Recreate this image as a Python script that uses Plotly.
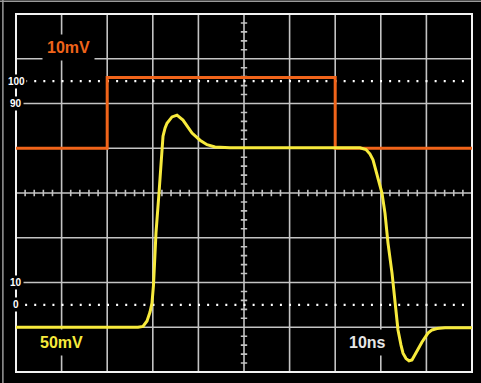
import plotly.graph_objects as go
import numpy as np

# ---- data (in screen divisions: 10 horizontal x 8 vertical) ----
ref_x = [0, 2, 2, 7, 7, 10]
ref_y = [5.0, 5.0, 6.58, 6.58, 5.0, 5.0]

resp_x = [0, 2.675, 2.785, 2.873, 2.939, 2.982, 3.015, 3.070, 3.136, 3.191, 3.224,
          3.268, 3.311, 3.421, 3.531, 3.662, 3.860, 4.035, 4.189, 4.364, 4.693,
          6.228, 7.544, 7.675, 7.763, 7.829, 7.939, 8.026, 8.092, 8.158, 8.246,
          8.311, 8.377, 8.443, 8.487, 8.553, 8.618, 8.684, 8.750, 8.816, 8.904,
          8.969, 9.035, 9.123, 9.232, 9.408, 10]
resp_y = [1.0, 1.0, 1.02, 1.14, 1.34, 1.54, 1.94, 3.11, 4.00, 4.74, 5.27,
          5.45, 5.56, 5.70, 5.74, 5.63, 5.34, 5.18, 5.08, 5.03, 5.01,
          5.01, 5.01, 4.97, 4.87, 4.74, 4.29, 4.00, 3.55, 2.88, 2.21,
          1.50, 0.94, 0.60, 0.42, 0.30, 0.25, 0.27, 0.38, 0.51, 0.67,
          0.78, 0.87, 0.94, 0.97, 0.99, 0.99]

level_labels = ["100", "90", "10", "0"]
level_values = [6.5, 6.0, 2.0, 1.5]
dotted_levels = [6.5, 1.5]

ch1_label = "10mV"
ch2_label = "50mV"
time_label = "10ns"

ORANGE = "#f0641a"
YELLOW = "#f7ea3c"
GRID = "#c4c4c4"
FONT = "Liberation Sans, Arial, sans-serif"

fig = go.Figure()

fig.add_trace(go.Scatter(x=ref_x, y=ref_y, mode="lines",
                         line=dict(color=ORANGE, width=3), hoverinfo="skip"))
fig.add_trace(go.Scatter(x=resp_x, y=resp_y, mode="lines",
                         line=dict(color=YELLOW, width=3), hoverinfo="skip"))

shapes = []
# grid
for i in range(1, 10):
    shapes.append(dict(type="line", x0=i, x1=i, y0=0, y1=8, layer="below",
                       line=dict(color=GRID, width=1.6)))
for j in range(1, 8):
    shapes.append(dict(type="line", x0=0, x1=10, y0=j, y1=j, layer="below",
                       line=dict(color=GRID, width=1.6)))
# border
shapes.append(dict(type="rect", x0=0, x1=10, y0=0, y1=8, layer="below",
                   line=dict(color="#f2f2f2", width=2)))
# center ticks
path = []
for k in range(1, 50):
    if k % 5 == 0:
        continue
    xv = k * 0.2
    path.append(f"M{xv},{4 - 0.07} L{xv},{4 + 0.07}")
for k in range(1, 40):
    if k % 5 == 0:
        continue
    yv = k * 0.2
    path.append(f"M{5 - 0.07},{yv} L{5 + 0.07},{yv}")
shapes.append(dict(type="path", path=" ".join(path), layer="below",
                   line=dict(color=GRID, width=1.6)))
# dotted reference levels
for lv in dotted_levels:
    shapes.append(dict(type="line", x0=0.2, x1=9.85, y0=lv, y1=lv, layer="below",
                       line=dict(color="#ffffff", width=2.2, dash="2px,7.1px")))
# outer frame (top/left)
shapes.append(dict(type="line", xref="paper", yref="paper", x0=0.006, x1=0.006,
                   y0=0, y1=1, line=dict(color="#9a9a9a", width=1.5)))
shapes.append(dict(type="line", xref="paper", yref="paper", x0=0, x1=1,
                   y0=0.997, y1=0.997, line=dict(color="#9a9a9a", width=1.5)))

annotations = []
for lab, val in zip(level_labels, level_values):
    annotations.append(dict(x=0, y=val, text=f"<b>{lab}</b>", showarrow=False,
                            xanchor="center", yanchor="middle",
                            font=dict(family=FONT, size=10, color="#ffffff"),
                            bgcolor="#000000", borderpad=1))
annotations.append(dict(x=1.15, y=7.25, text=f"<b>{ch1_label}</b>", showarrow=False,
                        font=dict(family=FONT, size=16, color=ORANGE),
                        bgcolor="#000000", borderpad=4))
annotations.append(dict(x=1.0, y=0.65, text=f"<b>{ch2_label}</b>", showarrow=False,
                        font=dict(family=FONT, size=16, color=YELLOW),
                        bgcolor="#000000", borderpad=4))
annotations.append(dict(x=7.7, y=0.67, text=f"<b>{time_label}</b>", showarrow=False,
                        font=dict(family=FONT, size=16, color="#e6e6e6"),
                        bgcolor="#000000", borderpad=4))

fig.update_layout(
    width=481, height=383,
    margin=dict(l=0, r=0, t=0, b=0),
    paper_bgcolor="#000000", plot_bgcolor="#000000",
    showlegend=False,
    xaxis=dict(range=[-0.3509, 10.1974], visible=False, fixedrange=True),
    yaxis=dict(range=[-0.2458, 8.3128], visible=False, fixedrange=True),
    shapes=shapes, annotations=annotations,
)

fig.write_html("out.html", config={"displayModeBar": False},
               post_script="document.body.style.margin='0';"
                           "document.body.style.overflow='hidden';"
                           "document.body.style.background='#000';")
